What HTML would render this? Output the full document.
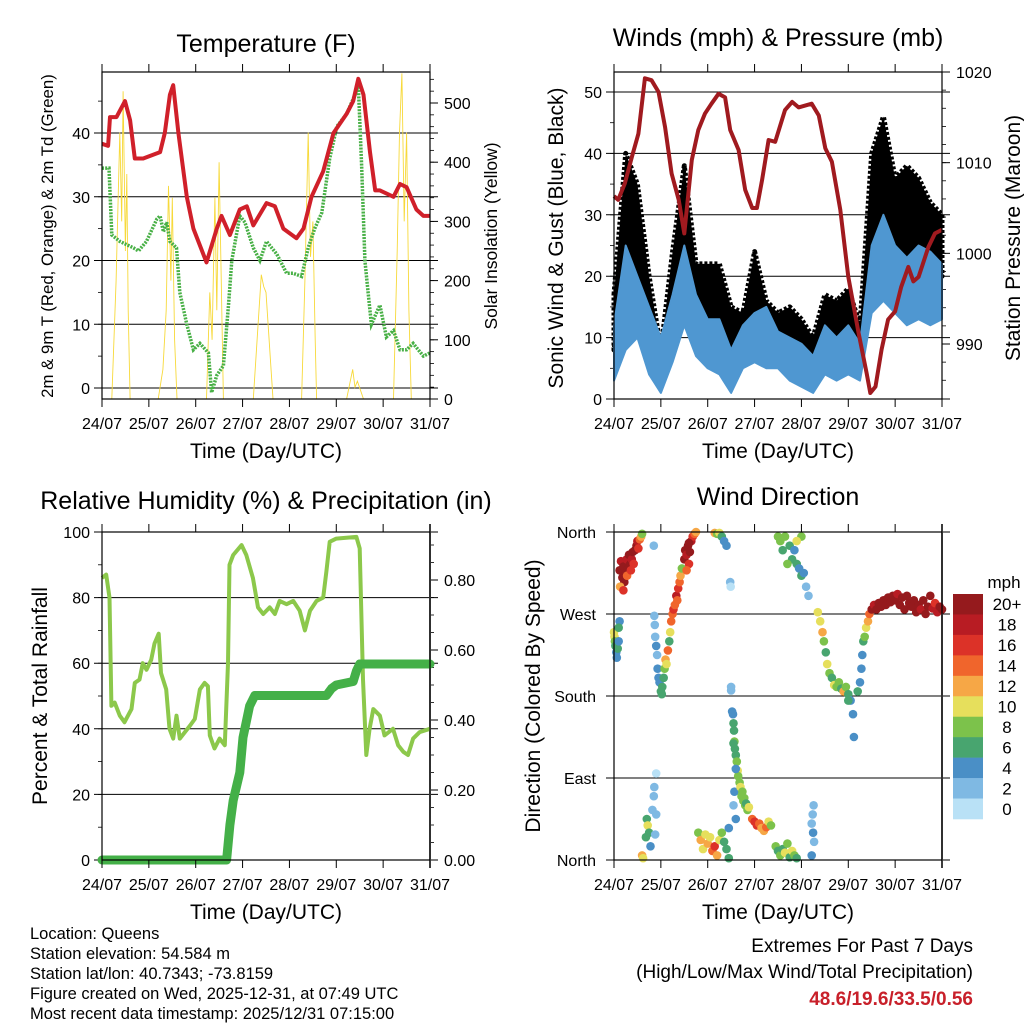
<!DOCTYPE html>
<html><head><meta charset="utf-8"><style>
html,body{margin:0;padding:0;background:#fff;}
svg{display:block;font-family:"Liberation Sans",Arial,sans-serif;}
</style></head><body>
<svg id="root" width="1024" height="1024" viewBox="0 0 1024 1024" xmlns="http://www.w3.org/2000/svg">
<g id="g-temp"></g>
<g id="g-wind"></g>
<g id="g-rh"></g>
<g id="g-dir"></g>
<g font-size="16.5" fill="#000">
<text x="30" y="939">Location: Queens</text>
<text x="30" y="959">Station elevation: 54.584 m</text>
<text x="30" y="979">Station lat/lon: 40.7343; -73.8159</text>
<text x="30" y="999">Figure created on Wed, 2025-12-31, at 07:49 UTC</text>
<text x="30" y="1019">Most recent data timestamp: 2025/12/31 07:15:00</text>
</g>
<g font-size="19" text-anchor="end">
<text x="973" y="952">Extremes For Past 7 Days</text>
<text x="973" y="978">(High/Low/Max Wind/Total Precipitation)</text>
<text x="973" y="1005" fill="#c8202a" font-weight="bold">48.6/19.6/33.5/0.56</text>
</g>
</svg>
<script>
// ---------- data ----------
const dayLabels = ["24/07","25/07","26/07","27/07","28/07","29/07","30/07","31/07"];
const tempTimes = [0,0.13,0.17,0.31,0.49,0.6,0.7,0.88,1.24,1.34,1.45,1.52,1.63,1.81,1.95,2.23,2.45,2.55,2.73,2.94,3.09,3.23,3.51,3.69,3.87,4.15,4.3,4.47,4.72,4.94,5.22,5.36,5.47,5.58,5.72,5.83,5.93,6.22,6.36,6.5,6.71,6.86,7.0];
const tempValues = [38.3,38,42.5,42.5,45,42,36,36,37,40,46,47.5,40,30,25,19.7,25,27,24,28,28.5,25.5,29,28.5,25,23.5,25,30,34,40,43,45,48.5,46,37,31,31,30,32,31.5,28,27,27];
const dewTimes = [0,0.15,0.21,0.38,0.67,0.78,0.95,1.17,1.24,1.31,1.38,1.45,1.59,1.66,1.81,1.95,2.09,2.27,2.34,2.45,2.59,2.7,2.77,2.94,3.05,3.23,3.37,3.51,3.73,3.94,4.08,4.26,4.4,4.54,4.69,4.86,5.01,5.22,5.4,5.47,5.54,5.61,5.68,5.75,5.93,6.07,6.22,6.36,6.5,6.64,6.86,7.0];
const dewValues = [34.5,34.5,24,23,22,21.5,23,26.5,27,24.5,26,23,22,15,10,6,7,5.5,-0.7,2,3.5,13,20,27,26,22,20,23,21,18,18,17.5,22,25,27.5,36,41,43,46,47.5,35,20,15,10,13,8,9,6,6,7,5,5.5];
const solarTimes = [0,0.21,0.3,0.38,0.42,0.45,0.5,0.53,0.56,0.6,1.2,1.3,1.37,1.42,1.47,1.5,1.55,1.6,2.23,2.3,2.35,2.41,2.45,2.5,2.59,3.23,3.35,3.4,3.45,3.5,3.65,4.26,4.33,4.4,4.45,4.5,4.55,4.58,5.22,5.35,5.4,5.45,5.58,6.22,6.3,6.35,6.4,6.45,6.5,6.55,6.6,7.0];
const solarValues = [0,0,200,450,300,520,250,380,150,0,0,50,150,360,200,340,100,0,0,180,100,340,150,400,0,0,150,210,190,180,0,0,200,450,240,300,100,0,0,50,20,30,0,0,250,450,550,300,450,150,0,0];

const windTimes = [0,0.25,0.5,0.75,1,1.25,1.5,1.75,2,2.25,2.5,2.75,3,3.25,3.5,3.75,4,4.25,4.5,4.75,5,5.25,5.5,5.75,6,6.25,6.5,6.75,7];
const windLow  = [3,8,10,4,1,6,12,7,5,4,1,5,6,5,5,3,2,1,4,3,4,3,14,16,14,12,13,12,13];
const windHigh = [12,25,20,15,10,17,25,17,13,13,8,12,14,15,11,10,9,7,12,10,12,9,25,30,25,23,25,24,22];
const gustLow  = [8,20,18,7,3,10,18,12,10,10,5,8,12,8,7,6,5,4,7,8,8,6,22,28,22,22,20,22,20];
const gustHigh = [17,40,35,20,8,24,38,22,22,22,15,14,24,16,14,15,13,10,17,16,18,12,40,46,36,38,36,32,30];
const pressTimes = [0,0.09,0.23,0.38,0.52,0.66,0.8,0.95,1.09,1.23,1.38,1.5,1.66,1.8,1.94,2.08,2.23,2.37,2.48,2.66,2.8,2.95,3.05,3.16,3.3,3.44,3.65,3.8,3.94,4.22,4.37,4.51,4.65,4.83,5.0,5.22,5.39,5.47,5.58,5.71,5.85,6.0,6.13,6.28,6.39,6.5,6.71,6.85,7.0];
const pressValues = [1006.3,1005.9,1007.7,1010.6,1013.2,1019.3,1019.1,1017.8,1013.9,1008.8,1005.9,1002.2,1010.3,1013.6,1015.4,1016.5,1017.6,1017.2,1013.6,1011.4,1007.0,1005.0,1005.0,1008.1,1012.5,1012.3,1015.8,1016.7,1016.1,1016.5,1015.2,1011.6,1010.1,1004.8,997.4,991.2,986.8,984.6,985.3,989.4,992.7,993.6,996.3,998.5,996.9,997.4,1000.7,1002.2,1002.6];

const rhTimes = [0,0.09,0.16,0.2,0.27,0.38,0.48,0.63,0.7,0.8,0.87,0.95,1.05,1.12,1.21,1.26,1.37,1.44,1.52,1.59,1.66,1.77,1.88,1.98,2.09,2.19,2.26,2.3,2.4,2.51,2.62,2.69,2.72,2.8,2.98,3.08,3.22,3.33,3.44,3.58,3.69,3.79,3.94,4.08,4.22,4.33,4.44,4.58,4.72,4.79,4.86,5.0,5.43,5.5,5.57,5.64,5.71,5.79,5.93,6.03,6.21,6.32,6.43,6.53,6.64,6.78,7.0];
const rhValues = [86,87,80,47,48,44,42,46,54,55,60,58,61,66,69,57,52,40,37,44,37,39,41,43,52,54,53,38,34,37,35,60,90,93,96,93,86,77,75,77,75,79,78,79,76,70,76,79,80,88,97,98,98.5,95,55,32,40,46,44,38,40,35,33,32,37,39,40];
const rainTimes = [0,2.66,2.73,2.8,2.94,3.01,3.15,3.26,4.79,4.9,5.0,5.36,5.43,5.5,7.0];
const rainValues = [0,0,0.1,0.17,0.25,0.35,0.44,0.47,0.47,0.49,0.5,0.51,0.54,0.56,0.56];

// wind direction observations: [day, direction deg, speed mph]
const dirObs = [
[0.12,318,20],[0.15,328,18],[0.18,310,20],[0.2,322,20],[0.22,305,20],[0.25,315,20],[0.27,330,18],[0.3,320,20],[0.32,335,20],[0.35,325,20],[0.38,330,18],[0.4,338,20],[0.42,325,16],[0.45,340,20],[0.48,345,20],[0.5,350,18],[0.52,342,16],[0.55,352,14],[0.58,355,12],[0.6,358,8],[0.13,300,12],[0.2,296,16],[0.28,312,14],[0.36,318,16],
[0.0,250,10],[0.01,245,10],[0.02,240,8],[0.03,235,6],[0.05,228,4],[0.06,222,4],[0.08,232,6],[0.1,240,4],[0.12,262,4],[0.1,255,6],
[0.86,268,2],[0.87,258,2],[0.88,245,2],[0.9,235,4],[0.92,225,2],[0.93,210,4],[0.95,200,4],[0.97,195,4],[1.0,185,6],[1.02,182,6],[0.85,345,2],
[1.03,190,6],[1.06,200,6],[1.08,210,8],[1.1,220,12],[1.12,215,10],[1.15,230,14],[1.18,240,6],[1.2,250,10],[1.22,262,14],[1.25,270,14],
[1.27,275,16],[1.3,280,14],[1.33,290,18],[1.35,285,14],[1.37,298,16],[1.4,305,14],[1.42,312,12],[1.45,320,8],
[1.5,330,20],[1.52,340,20],[1.55,335,18],[1.58,345,20],[1.6,325,16],[1.62,338,20],[1.65,350,18],[1.68,355,16],[1.72,358,14],[1.75,360,12],[1.55,318,14],[1.6,348,20],
[2.15,359,12],[2.2,358,8],[2.25,359,10],[2.3,355,6],[2.35,350,4],[2.4,345,4],
[2.48,305,2],[2.49,300,0],[2.5,190,2],[2.5,186,2],
[2.52,163,4],[2.54,160,4],[2.55,150,6],[2.56,142,6],[2.57,130,8],[2.58,122,6],[2.6,115,6],[2.62,108,8],[2.64,98,10],[2.65,92,8],[2.55,128,6],[2.6,100,4],[2.57,75,4],[2.55,60,2],[2.6,45,4],
[2.68,85,8],[2.7,80,10],[2.72,70,8],[2.74,75,8],[2.76,65,8],[2.78,68,8],[2.8,60,8],[2.82,62,6],[2.85,55,8],[2.88,58,10],
[2.95,45,14],[3.0,42,16],[3.05,38,16],[3.1,40,14],[3.15,35,12],[3.2,32,12],[3.25,36,14],[3.3,42,10],[3.35,38,8],
[3.45,15,8],[3.5,10,6],[3.55,5,8],[3.6,12,6],[3.65,8,10],[3.7,18,8],[3.75,3,6],[3.8,10,10],[3.85,5,8],[3.9,2,6],
[1.8,30,8],[1.85,22,12],[1.9,12,10],[1.95,28,10],[2.0,18,12],[2.05,25,10],[2.1,10,14],[2.15,15,16],[2.2,5,12],[2.25,22,10],[2.3,30,8],[2.35,20,6],[2.4,12,6],[2.45,35,4],[2.45,2,6],
[0.6,5,12],[0.62,2,10],[0.68,25,6],[0.7,45,6],[0.72,38,10],[0.75,30,6],[0.78,15,4],[0.82,55,2],[0.85,70,2],[0.86,80,2],[0.88,28,2],[0.9,50,2],[0.9,95,0],
[4.22,40,2],[4.24,50,2],[4.25,30,4],[4.26,60,2],[4.27,20,2],[4.22,5,4],
[3.5,355,8],[3.55,350,8],[3.6,340,6],[3.65,355,8],[3.75,345,6],[3.8,330,6],[3.85,340,4],[3.9,325,6],[3.95,320,4],[4.0,312,6],[4.05,315,4],[4.1,300,2],[4.15,290,2],[4.0,355,8],[3.9,350,10],[3.7,325,8],
[4.35,272,10],[4.4,262,10],[4.45,250,12],[4.48,240,8],[4.52,228,6],[4.55,215,10],[4.6,205,8],[4.65,200,6],[4.7,192,10],[4.75,190,8],
[4.8,195,8],[4.85,188,6],[4.9,185,12],[4.95,190,8],[5.0,182,6],[5.05,175,4],[5.1,160,4],[5.12,135,4],[5.0,175,6],
[5.2,185,6],[5.25,195,4],[5.28,210,4],[5.3,225,4],[5.32,240,6],[5.35,245,8],[5.38,255,10],[5.42,262,12],[5.45,270,14],
[5.5,275,20],[5.55,280,18],[5.6,275,20],[5.65,282,20],[5.7,278,20],[5.75,285,20],[5.8,280,20],[5.85,288,20],[5.9,283,20],[5.95,290,20],[6.0,285,20],[6.05,292,18],[6.1,280,20],[6.15,288,20],[6.2,275,20],[6.25,290,20],[6.3,282,20],[6.35,278,20],[6.4,285,20],[6.45,272,20],[6.5,280,20],[6.55,275,18],[6.6,285,20],[6.65,270,20],[6.7,278,20],[6.75,290,20],[6.8,276,18],[6.85,282,16],[6.9,272,18],[6.95,278,20],[7.0,275,20]
];
const speedLabels = ["20+","18","16","14","12","10","8","6","4","2","0"];
const speedColors = ["#951a1d","#b81c23","#dc3228","#f0652c","#f6a746","#e6df5c","#7cc24b","#48a56f","#4a8fc6","#7fb9e3","#b9e1f6"];

// ---------- helpers ----------
const NS="http://www.w3.org/2000/svg";
function mk(parent,tag,attrs){const e=document.createElementNS(NS,tag);for(const k in attrs)e.setAttribute(k,attrs[k]);parent.appendChild(e);return e;}
function lin(d0,d1,r0,r1){return v=>r0+(v-d0)/(d1-d0)*(r1-r0);}
function pathOf(ts,vs,X,Y){return ts.map((t,i)=>(i?"L":"M")+X(t).toFixed(1)+","+Y(vs[i]).toFixed(1)).join("");}
function bandOf(ts,lo,hi,X,Y){let d=ts.map((t,i)=>(i?"L":"M")+X(t).toFixed(1)+","+Y(hi[i]).toFixed(1)).join("");for(let i=ts.length-1;i>=0;i--)d+="L"+X(ts[i]).toFixed(1)+","+Y(lo[i]).toFixed(1);return d+"Z";}

function frame(g,L,T,R,B,X){
  mk(g,"rect",{x:L,y:T,width:R-L,height:B-T,fill:"none",stroke:"#000","stroke-width":1.2});
  for(let d=0;d<=7;d++){
    const x=X(d);
    let e=mk(g,"line",{x1:x,y1:B,x2:x,y2:B+8,stroke:"#000","stroke-width":1});
    
    
    mk(g,"line",{x1:x,y1:T,x2:x,y2:T-8,stroke:"#000","stroke-width":1});
    let t=mk(g,"text",{x:x,y:B+30,"font-size":16,"text-anchor":"middle"});
    t.textContent=dayLabels[d];
    
    
  }
  let xt=mk(g,"text",{x:(L+R)/2,y:B+59,"font-size":21,"text-anchor":"middle"});
  xt.textContent="Time (Day/UTC)";
  
  
}
function leftAxis(g,L,R,Y,majors,minors,fmt,grid){
  minors.forEach(v=>mk(g,"line",{x1:L,y1:Y(v),x2:L-4,y2:Y(v),stroke:"#000","stroke-width":0.8}));
  majors.forEach(v=>{
    const y=Y(v);
    mk(g,"line",{x1:L-8,y1:y,x2:grid?R+8:L,y2:y,stroke:"#000","stroke-width":1});
    let t=mk(g,"text",{x:L-12,y:y+6,"font-size":16,"text-anchor":"end"});
    t.textContent=fmt(v);
    
    
  });
}
function rightAxis(g,R,Y,majors,minors,fmt){
  minors.forEach(v=>mk(g,"line",{x1:R,y1:Y(v),x2:R+4,y2:Y(v),stroke:"#000","stroke-width":0.8}));
  majors.forEach(v=>{
    const y=Y(v);
    mk(g,"line",{x1:R,y1:y,x2:R+8,y2:y,stroke:"#000","stroke-width":1});
    let t=mk(g,"text",{x:R+14,y:y+6,"font-size":16});
    t.textContent=fmt(v);
    
    
  });
}
function title(g,x,y,s,name){let t=mk(g,"text",{x:x,y:y,"font-size":25,"text-anchor":"middle"});t.textContent=s;}
function vtitle(g,x,y,s,size,name){let t=mk(g,"text",{x:x,y:y,"font-size":size,"text-anchor":"middle",transform:`rotate(-90 ${x} ${y})`});t.textContent=s;}
function range(a,b,s){const r=[];for(let v=a;v<=b+1e-9;v+=s)r.push(+v.toFixed(4));return r;}

// ---------- Temperature ----------
(function(){
  const g=document.getElementById("g-temp");
  const L=102,R=430,T=72,B=399;
  const X=lin(0,7,L,R), Y=lin(0,40,388,133), Y2=lin(0,500,399,103);
  title(g,266,52,"Temperature (F)","temp-title");
  leftAxis(g,L,R,Y,[0,10,20,30,40],range(-0,45,5),v=>v,true);
  rightAxis(g,R,Y2,[0,100,200,300,400,500],range(0,540,20),v=>v);
  let s=mk(g,"path",{d:pathOf(solarTimes,solarValues,X,Y2),fill:"none",stroke:"#f7d93a","stroke-width":0.9});
  
  
  let d=mk(g,"path",{d:pathOf(dewTimes,dewValues,X,Y),fill:"none",stroke:"#48b046","stroke-width":3.5,"stroke-dasharray":"2 1.2"});
  
  
  let r=mk(g,"path",{d:pathOf(tempTimes,tempValues,X,Y),fill:"none",stroke:"#d0202a","stroke-width":4,"stroke-linejoin":"round"});
  
  
  frame(g,L,T,R,B,X);
  vtitle(g,53,236,"2m & 9m T (Red, Orange) & 2m Td (Green)",16.8,"y-axis-title");
  vtitle(g,497,236,"Solar Insolation (Yellow)",17.5,"y2-axis-title");
})();

// ---------- Winds & Pressure ----------
(function(){
  const g=document.getElementById("g-wind");
  const L=614,R=942,T=72,B=399;
  const X=lin(0,7,L,R), Y=lin(0,50,399,92), Y2=lin(990,1020,344,72);
  title(g,778,46,"Winds (mph) & Pressure (mb)","wind-title");
  leftAxis(g,L,R,Y,[0,10,20,30,40,50],range(0,50,5),v=>v,true);
  rightAxis(g,R,Y2,[990,1000,1010,1020],range(986,1020,2),v=>v);
  let gb=mk(g,"path",{d:bandOf(windTimes,gustLow,gustHigh,X,Y),fill:"#000",stroke:"#000","stroke-width":5,"stroke-linejoin":"round","stroke-dasharray":"3 2"});
  
  
  let wb=mk(g,"path",{d:bandOf(windTimes,windLow,windHigh,X,Y),fill:"#4f97d1",stroke:"#4f97d1","stroke-width":2,"stroke-linejoin":"round"});
  
  
  let p=mk(g,"path",{d:pathOf(pressTimes,pressValues,X,Y2),fill:"none",stroke:"#a01a1f","stroke-width":4,"stroke-linejoin":"round"});
  
  
  frame(g,L,T,R,B,X);
  vtitle(g,563,238,"Sonic Wind & Gust (Blue, Black)",21,"y-axis-title");
  vtitle(g,1020,238,"Station Pressure (Maroon)",21,"y2-axis-title");
})();

// ---------- RH & Precip ----------
(function(){
  const g=document.getElementById("g-rh");
  const L=102,R=430,T=532,B=860;
  const X=lin(0,7,L,R), Y=lin(0,100,860,532), Y2=lin(0,0.8,860,580);
  title(g,266,509,"Relative Humidity (%) & Precipitation (in)","rh-title");
  leftAxis(g,L,R,Y,[0,20,40,60,80,100],range(0,100,10),v=>v,true);
  rightAxis(g,R,Y2,[0,0.2,0.4,0.6,0.8],range(0,0.9,0.05),v=>v.toFixed(2));
  mk(g,"line",{x1:R,y1:T-8,x2:R,y2:B+8,stroke:"#777","stroke-width":2});
  let rh=mk(g,"path",{d:pathOf(rhTimes,rhValues,X,Y),fill:"none",stroke:"#8cc84b","stroke-width":4,"stroke-linejoin":"round"});
  
  
  let rn=mk(g,"path",{d:pathOf(rainTimes,rainValues,X,Y2),fill:"none",stroke:"#44b048","stroke-width":9,"stroke-linejoin":"round","stroke-linecap":"round"});
  
  
  frame(g,L,T,R,B,X);
  vtitle(g,47,696,"Percent & Total Rainfall",21,"y-axis-title");
})();

// ---------- Wind Direction ----------
(function(){
  const g=document.getElementById("g-dir");
  const L=614,R=942,T=532,B=860;
  const X=lin(0,7,L,R), Y=lin(0,360,860,532);
  title(g,778,505,"Wind Direction","dir-title");
  const dirNames=["North","East","South","West","North"];
  [0,90,180,270,360].forEach((v,i)=>{
    const y=Y(v);
    mk(g,"line",{x1:L-8,y1:y,x2:R+8,y2:y,stroke:"#000","stroke-width":1});
    let t=mk(g,"text",{x:L-18,y:y+6,"font-size":16,"text-anchor":"end"});
    t.textContent=dirNames[i];
    
    
  });
  mk(g,"line",{x1:R,y1:T-8,x2:R,y2:B+8,stroke:"#777","stroke-width":2});
  dirObs.forEach(o=>{
    const bin=o[2]>=20?0:10-Math.floor(o[2]/2);
    const c=mk(g,"circle",{cx:X(o[0]).toFixed(1),cy:Y(o[1]).toFixed(1),r:4.3,fill:speedColors[bin]});
    
    
  });
  frame(g,L,T,R,B,X);
  vtitle(g,540,696,"Direction (Colored By Speed)",21,"y-axis-title");
  // colorbar
  const cb=mk(g,"g",{});
  
  
  let m=mk(cb,"text",{x:1004,y:588,"font-size":17,"text-anchor":"middle"});
  m.textContent="mph";
  const h=(819-594)/speedLabels.length;
  speedLabels.forEach((lab,i)=>{
    let r=mk(cb,"rect",{x:953,y:594+i*h,width:30,height:h+0.3,fill:speedColors[i]});
    
    
    let t=mk(cb,"text",{x:1007,y:594+i*h+h/2+6,"font-size":17,"text-anchor":"middle"});
    t.textContent=lab;
    
    
  });
})();
</script>
</body></html>
